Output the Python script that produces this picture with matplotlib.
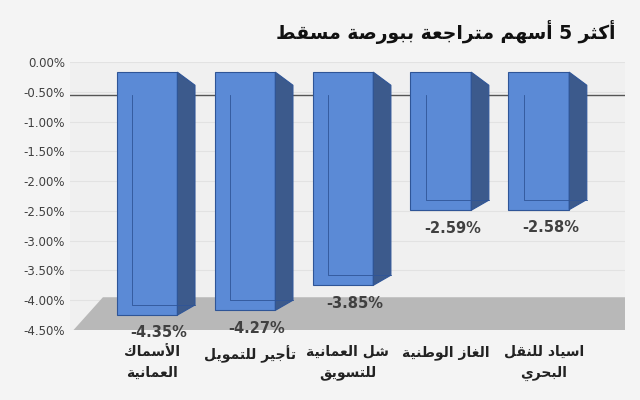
import matplotlib
matplotlib.use("Agg")
import matplotlib.pyplot as plt
from matplotlib.patches import Polygon

categories = ["الأسماك\nالعمانية", "تأجير للتمويل", "شل العمانية\nللتسويق", "الغاز الوطنية", "اسياد للنقل\nالبحري"]
values = [-4.35, -4.27, -3.85, -2.59, -2.58]
yticks = [0, -0.5, -1, -1.5, -2, -2.5, -3, -3.5, -4, -4.5]
title = "أكثر 5 أسهم متراجعة ببورصة مسقط"

FORMS = {'ء':(0xFE80,1),'آ':(0xFE81,2),'أ':(0xFE83,2),'ؤ':(0xFE85,2),'إ':(0xFE87,2),'ئ':(0xFE89,4),
 'ا':(0xFE8D,2),'ب':(0xFE8F,4),'ة':(0xFE93,2),'ت':(0xFE95,4),'ث':(0xFE99,4),'ج':(0xFE9D,4),'ح':(0xFEA1,4),
 'خ':(0xFEA5,4),'د':(0xFEA9,2),'ذ':(0xFEAB,2),'ر':(0xFEAD,2),'ز':(0xFEAF,2),'س':(0xFEB1,4),'ش':(0xFEB5,4),
 'ص':(0xFEB9,4),'ض':(0xFEBD,4),'ط':(0xFEC1,4),'ظ':(0xFEC5,4),'ع':(0xFEC9,4),'غ':(0xFECD,4),'ف':(0xFED1,4),
 'ق':(0xFED5,4),'ك':(0xFED9,4),'ل':(0xFEDD,4),'م':(0xFEE1,4),'ن':(0xFEE5,4),'ه':(0xFEE9,4),'و':(0xFEED,2),
 'ى':(0xFEEF,2),'ي':(0xFEF1,4)}
LAMALEF = {'ا':0xFEFB,'أ':0xFEF7,'آ':0xFEF5,'إ':0xFEF9}

def shape_word(w):
    if not any(c in FORMS for c in w):
        return w
    out = []
    i = 0
    prev_joins = False
    while i < len(w):
        c = w[i]
        if c == 'ل' and i + 1 < len(w) and w[i+1] in LAMALEF:
            out.append(chr(LAMALEF[w[i+1]] + (1 if prev_joins else 0)))
            prev_joins = False
            i += 2
            continue
        if c not in FORMS:
            out.append(c); prev_joins = False; i += 1; continue
        base, n = FORMS[c]
        nxt = w[i+1] if i + 1 < len(w) else None
        jn = n == 4 and nxt in FORMS
        jp = prev_joins and n >= 2
        if jp and jn: f = 3
        elif jp: f = 1
        elif jn: f = 2
        else: f = 0
        out.append(chr(base + f))
        prev_joins = jn
        i += 1
    return ''.join(reversed(out))

def ar(s):
    return '\n'.join(' '.join(shape_word(w) for w in reversed(line.split(' '))) for line in s.split('\n'))

plt.rcParams['font.family'] = ['DejaVu Sans']
fig = plt.figure(figsize=(6.4, 4.0), dpi=100)
fig.patch.set_facecolor('#f4f4f4')
ax = fig.add_axes([70/640, 70/400, 555/640, 268/400])
ax.set_facecolor('#f0f0f0')
ax.set_xlim(-0.786, 4.88)
ax.set_ylim(-4.5, 0)
ax.set_yticks(yticks)
ax.set_yticklabels([f"{t:.2f}%" for t in yticks], fontsize=8.5, color='#404040')
ax.set_xticks([])
for s in ax.spines.values():
    s.set_visible(False)
ax.tick_params(axis='y', length=0)
for t in yticks:
    ax.axhline(t, color='#e2e2e2', lw=0.8, zorder=0)
ax.axhline(-0.55, color='#555555', lw=1, zorder=1)
# floor
ax.add_patch(Polygon([(-0.75, -4.5), (-0.45, -3.95), (4.88, -3.95), (4.88, -4.5)], closed=True,
                     facecolor='#b8b8b8', edgecolor='none', zorder=1))
w = 0.31; dx = 0.18; dtop = 0.22; dbot = 0.17
for i, v in enumerate(values):
    top = -0.17; bot = v + 0.1
    ax.add_patch(Polygon([(i-w, top), (i+w, top), (i+w, bot), (i-w, bot)], closed=True,
                         facecolor='#5b8ad6', edgecolor='#2f5597', lw=0.8, zorder=3))
    ax.add_patch(Polygon([(i+w, top), (i+w+dx, top-dtop), (i+w+dx, bot+dbot), (i+w, bot)], closed=True,
                         facecolor='#3c5a8c', edgecolor='#2f5597', lw=0.8, zorder=3))
    ax.plot([i-w+0.16, i-w+0.16, i+w+dx], [top-0.55+0.17, bot+dbot, bot+dbot], color='#2f5597', lw=0.6, zorder=4)
    ax.text(i + 0.12, bot - 0.3, f"{v:.2f}%", ha='center', va='center', fontsize=10.5,
            fontweight='bold', color='#404040', zorder=5)
    ax.text(i + 0.05, -4.75, ar(categories[i]), ha='center', va='top', fontsize=10,
            fontweight='bold', color='#222222', linespacing=1.6, clip_on=False)
fig.text(615/640, 1 - 32/400, ar(title), ha='right', va='center', fontsize=13.5, fontweight='bold', color='#111111')
fig.savefig("out.png", dpi=100, facecolor=fig.get_facecolor())
